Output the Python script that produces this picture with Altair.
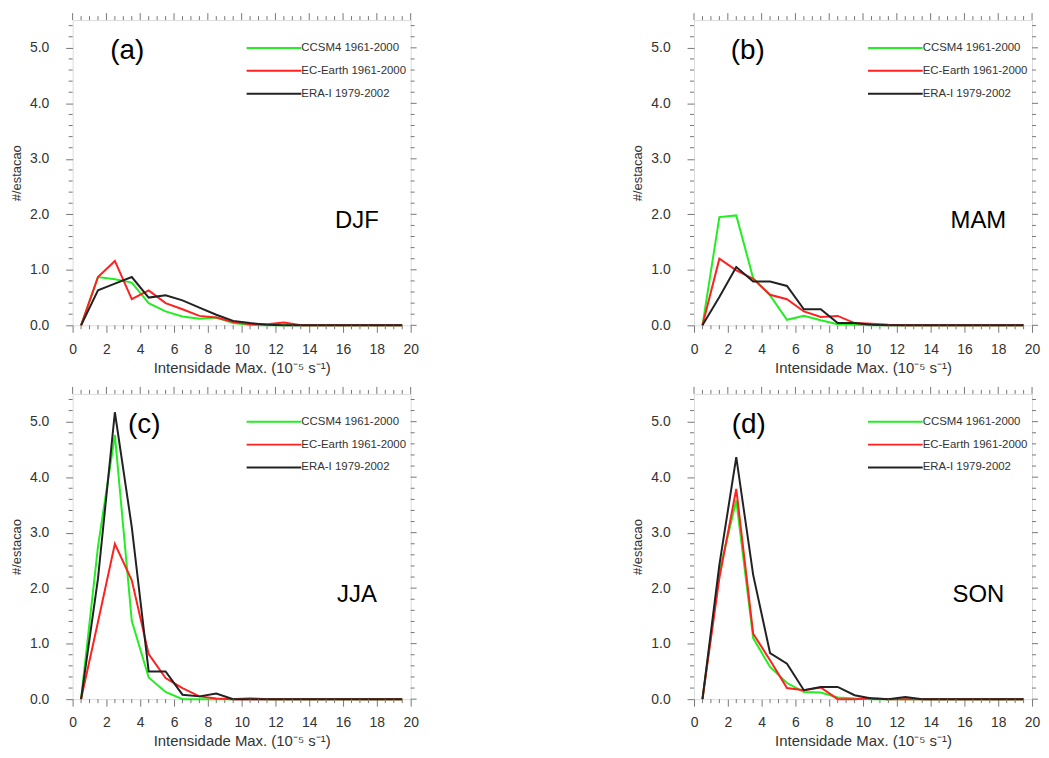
import altair as alt
import pandas as pd

# ---------------- data ----------------
x_bins = [0.5, 1.5, 2.5, 3.5, 4.5, 5.5, 6.5, 7.5, 8.5, 9.5,
          10.5, 11.5, 12.5, 13.5, 14.5, 15.5, 16.5, 17.5, 18.5, 19.5]

series_names = ["CCSM4 1961-2000", "EC-Earth 1961-2000", "ERA-I 1979-2002"]
series_colors = ["#22ee22", "#ff2020", "#222222"]

djf_ccsm4 = [0, 0.87, 0.83, 0.77, 0.40, 0.25, 0.16, 0.12, 0.14, 0.04, 0.01, 0, 0, 0, 0, 0, 0, 0, 0, 0]
djf_ecearth = [0, 0.87, 1.16, 0.47, 0.63, 0.40, 0.29, 0.17, 0.14, 0.06, 0.02, 0.02, 0.05, 0, 0, 0, 0, 0, 0, 0]
djf_erai = [0, 0.63, 0.75, 0.87, 0.50, 0.54, 0.45, 0.32, 0.19, 0.08, 0.04, 0.01, 0, 0, 0, 0, 0, 0, 0, 0]

mam_ccsm4 = [0, 1.95, 1.98, 0.85, 0.54, 0.10, 0.17, 0.09, 0.02, 0.01, 0, 0, 0, 0, 0, 0, 0, 0, 0, 0]
mam_ecearth = [0, 1.20, 0.99, 0.84, 0.55, 0.47, 0.25, 0.15, 0.17, 0.04, 0.03, 0.01, 0, 0, 0, 0, 0, 0, 0, 0]
mam_erai = [0, 0.51, 1.05, 0.79, 0.79, 0.71, 0.29, 0.29, 0.04, 0.04, 0.01, 0, 0, 0, 0, 0, 0, 0, 0, 0]

jja_ccsm4 = [0, 2.75, 4.76, 1.41, 0.39, 0.13, 0.0, 0.0, 0.0, 0.0, 0.02, 0, 0, 0, 0, 0, 0, 0, 0, 0]
jja_ecearth = [0, 1.39, 2.80, 2.14, 0.81, 0.38, 0.20, 0.05, 0.01, 0, 0, 0, 0, 0, 0, 0, 0, 0, 0, 0]
jja_erai = [0, 2.17, 5.17, 3.10, 0.50, 0.50, 0.08, 0.05, 0.10, 0, 0, 0, 0, 0, 0, 0, 0, 0, 0, 0]

son_ccsm4 = [0, 2.30, 3.58, 1.10, 0.58, 0.29, 0.13, 0.12, 0.03, 0.01, 0, 0, 0, 0, 0, 0, 0, 0, 0, 0]
son_ecearth = [0, 2.18, 3.79, 1.18, 0.70, 0.20, 0.16, 0.21, 0.0, 0.0, 0.02, 0, 0, 0, 0, 0, 0, 0, 0, 0]
son_erai = [0, 2.42, 4.36, 2.24, 0.83, 0.64, 0.16, 0.22, 0.22, 0.07, 0.01, 0, 0.04, 0, 0, 0, 0, 0, 0, 0]

panel_tags = ["(a)", "(b)", "(c)", "(d)"]
season_names = ["DJF", "MAM", "JJA", "SON"]

x_major = [0, 2, 4, 6, 8, 10, 12, 14, 16, 18, 20]
x_minor = [0.5, 1, 1.5, 2.5, 3, 3.5, 4.5, 5, 5.5, 6.5, 7, 7.5, 8.5, 9, 9.5,
           10.5, 11, 11.5, 12.5, 13, 13.5, 14.5, 15, 15.5, 16.5, 17, 17.5, 18.5, 19, 19.5]
y_major = [0, 1, 2, 3, 4, 5]
y_minor = [0.2, 0.4, 0.6, 0.8, 1.2, 1.4, 1.6, 1.8, 2.2, 2.4, 2.6, 2.8, 3.2, 3.4, 3.6, 3.8,
           4.2, 4.4, 4.6, 4.8, 5.2, 5.4]

# ---------------- style ----------------
W, H = 340, 307
FONT = "Liberation Sans"
TICK_C = "#777777"
TEXT_C = "#333333"
MAJ, MIN = 7, 4
RMAJ = 6

xs = alt.Scale(domain=[0, 20], nice=False, zero=False)
ys = alt.Scale(domain=[0, 5.5], nice=False, zero=False)

x_axis = alt.Axis(values=x_major, tickSize=MAJ, tickColor=TICK_C, domain=False, grid=False,
                  labelFontSize=14, labelColor=TEXT_C, labelPadding=10, labelFont=FONT,
                  labelFlush=False,
                  title="Intensidade Max. (10\u207b\u2075 s\u207b\u00b9)", titleFontSize=15,
                  titleFontWeight="normal", titleColor=TEXT_C, titleFont=FONT, titlePadding=4)
y_axis = alt.Axis(values=y_major, format=".1f", tickSize=MAJ, tickColor=TICK_C, domain=False,
                  grid=False, labelFontSize=14, labelColor=TEXT_C, labelPadding=17, labelFont=FONT,
                  labelFlush=False,
                  title="#/estacao", titleFontSize=13, titleFontWeight="normal", titleColor=TEXT_C,
                  titleFont=FONT, titlePadding=6)


def tick_layers():
    xmaj = pd.DataFrame({"x": x_major})
    xmin = pd.DataFrame({"x": x_minor})
    ymaj = pd.DataFrame({"y": y_major})
    ymin = pd.DataFrame({"y": y_minor})
    X = alt.X("x:Q", scale=xs, axis=x_axis)
    Y = alt.Y("y:Q", scale=ys, axis=y_axis)
    layers = []
    layers.append(alt.Chart(xmin).mark_rule(color=TICK_C, strokeWidth=1).encode(
        x=X, y=alt.value(H), y2=alt.value(H + MIN)))
    layers.append(alt.Chart(xmaj).mark_rule(color=TICK_C, strokeWidth=1).encode(
        x=X, y=alt.value(0), y2=alt.value(-MAJ)))
    layers.append(alt.Chart(xmin).mark_rule(color=TICK_C, strokeWidth=1).encode(
        x=X, y=alt.value(0), y2=alt.value(-MIN)))
    layers.append(alt.Chart(ymin).mark_rule(color=TICK_C, strokeWidth=1).encode(
        y=Y, x=alt.value(0), x2=alt.value(-MIN)))
    layers.append(alt.Chart(ymaj).mark_rule(color=TICK_C, strokeWidth=1).encode(
        y=Y, x=alt.value(W), x2=alt.value(W + RMAJ)))
    layers.append(alt.Chart(ymin).mark_rule(color=TICK_C, strokeWidth=1).encode(
        y=Y, x=alt.value(W), x2=alt.value(W + MIN)))
    return layers


def panel(values, tag, season, tag_x):
    rows = []
    for name, vals in zip(series_names, values):
        for xv, yv in zip(x_bins, vals):
            rows.append({"x": xv, "y": yv, "series": name})
    df = pd.DataFrame(rows)

    layers = []
    for i, (name, col) in enumerate(zip(series_names, series_colors)):
        layers.append(
            alt.Chart(df).transform_filter(alt.datum.series == name)
            .mark_line(color=col, strokeWidth=2)
            .encode(x=alt.X("x:Q", scale=xs, axis=x_axis),
                    y=alt.Y("y:Q", scale=ys, axis=y_axis))
        )
    layers += tick_layers()
    leg = pd.DataFrame({"series": series_names})
    for i, (name, col) in enumerate(zip(series_names, series_colors)):
        ly = 28 + 23 * i
        layers.append(alt.Chart(leg).transform_filter(alt.datum.series == name)
                      .mark_rule(color=col, strokeWidth=2)
                      .encode(x=alt.value(175), x2=alt.value(230), y=alt.value(ly)))
        layers.append(alt.Chart(leg).transform_filter(alt.datum.series == name)
                      .mark_text(align="left", baseline="middle", fontSize=11.5, font=FONT,
                                 color=TEXT_C)
                      .encode(text="series:N", x=alt.value(230), y=alt.value(ly)))
    lab = pd.DataFrame({"tag": [tag], "season": [season]})
    layers.append(alt.Chart(lab).mark_text(align="center", baseline="middle", fontSize=28,
                                           font=FONT, color="black")
                  .encode(text="tag:N", x=alt.value(tag_x), y=alt.value(31)))
    layers.append(alt.Chart(lab).mark_text(align="center", baseline="middle", fontSize=24,
                                           font=FONT, color="black")
                  .encode(text="season:N", x=alt.value(286), y=alt.value(202)))
    return alt.layer(*layers).properties(width=W, height=H)


pa = panel([djf_ccsm4, djf_ecearth, djf_erai], panel_tags[0], season_names[0], 55)
pb = panel([mam_ccsm4, mam_ecearth, mam_erai], panel_tags[1], season_names[1], 54)
pc = panel([jja_ccsm4, jja_ecearth, jja_erai], panel_tags[2], season_names[2], 72)
pd_ = panel([son_ccsm4, son_ecearth, son_erai], panel_tags[3], season_names[3], 55)

chart = alt.concat(pa, pb, pc, pd_, columns=2, spacing={"row": 10, "column": 213}).properties(
    padding={"left": 2, "top": 2, "right": 0, "bottom": 0}
).configure_view(stroke="#666666", strokeWidth=1).configure(background="white")

chart.save("out.html", embed_options={"renderer": "svg", "actions": False})
